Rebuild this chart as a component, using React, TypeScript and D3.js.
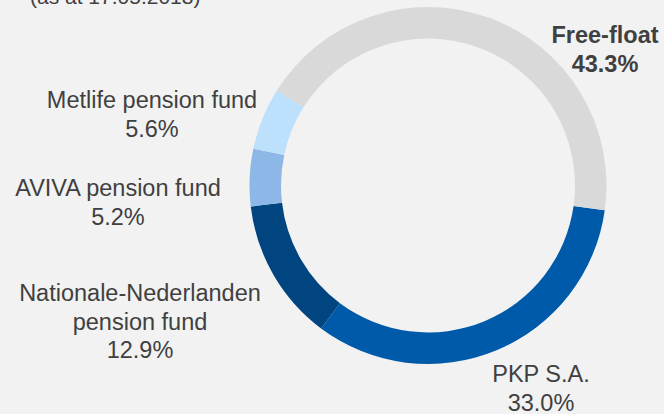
import * as d3 from 'd3';

const W = 664;
const H = 414;

// shareholder structure, clockwise from the PKP slice
const holders = ['PKP S.A.', 'Nationale-Nederlanden pension fund', 'AVIVA pension fund', 'Metlife pension fund', 'Free-float'];
const shares = [33.0, 12.9, 5.2, 5.6, 43.3];
const colors = ['#005aaa', '#00457f', '#8cb7e6', '#bde0fd', '#d9d9d9'];
const labelLines = [['PKP S.A.'], ['Nationale-Nederlanden', 'pension fund'], ['AVIVA pension fund'], ['Metlife pension fund'], ['Free-float']];

// label anchor (centre x, first baseline y)
const labelPos: [number, number][] = [
    [541, 382],
    [140, 301],
    [118, 196],
    [152, 108],
    [605, 43],
];

export default function App() {
    const cx = 428;
    const cy = 185.5;
    const outer = 178.5;
    const inner = 147;
    const lineH = 28.5;

    const start = (98 * Math.PI) / 180;
    const pie = d3
        .pie<number>()
        .sort(null)
        .startAngle(start)
        .endAngle(start + 2 * Math.PI);
    const arcs = pie(shares);
    const arc = d3.arc<d3.PieArcDatum<number>>().innerRadius(inner).outerRadius(outer);

    return (
        <div style={{ position: 'absolute', left: 0, top: 0 }}>
            <svg width={W} height={H} style={{ display: 'block', background: '#f2f2f2' }} fontFamily="'Liberation Sans', Arial, sans-serif">
                <text x={30} y={4} fontSize={21} fill="#404040">
                    (as at 17.05.2018)
                </text>
                <g transform={`translate(${cx},${cy})`}>
                    {arcs.map((a, i) => (
                        <path key={holders[i]} d={arc(a) ?? ''} fill={colors[i]} />
                    ))}
                </g>
                {holders.map((h, i) => {
                    const [x, y] = labelPos[i];
                    const bold = h === 'Free-float';
                    const lines = [...labelLines[i], `${d3.format('.1f')(shares[i])}%`];
                    return (
                        <text key={h} x={x} y={y} textAnchor="middle" fontSize={23.5} fill="#404040" fontWeight={bold ? 700 : 400}>
                            {lines.map((l, j) => (
                                <tspan key={j} x={x} y={y + j * lineH}>
                                    {l}
                                </tspan>
                            ))}
                        </text>
                    );
                })}
            </svg>
        </div>
    );
}
